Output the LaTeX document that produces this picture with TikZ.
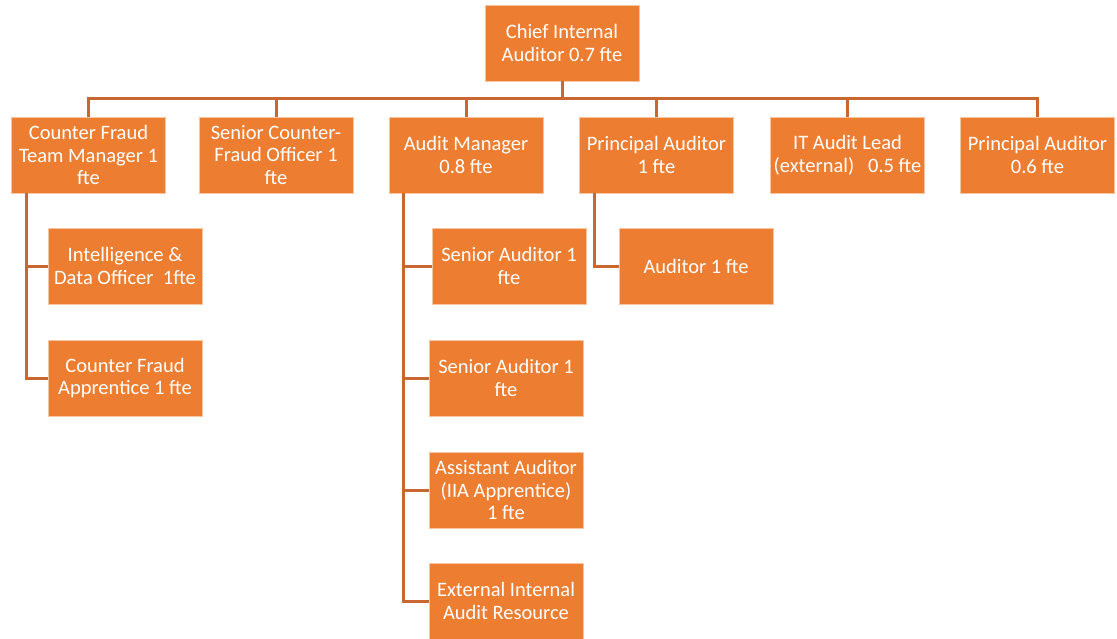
\documentclass[tikz,border=0pt]{standalone}
\usepackage{fontspec}
\setmainfont{Carlito}
\definecolor{boxfill}{RGB}{237,125,49}
\definecolor{linecol}{RGB}{200,104,48}
\tikzset{
  role/.style={fill=boxfill, draw=white!55!boxfill, line width=0.6pt, text=white,
    minimum width=154pt, minimum height=76pt, inner sep=0pt, align=center,
    font=\fontsize{20.5}{22.8}\selectfont},
  link/.style={draw=linecol, line width=3pt}
}
\begin{document}
\begin{tikzpicture}[x=1pt,y=-1pt]
\useasboundingbox (0,0) rectangle (1117,638);
% level 0
\node[role] (chief) at (562,43) {Chief Internal\\Auditor 0.7 fte};
% level 1
\node[role] (cfm) at (88.5,155) {Counter Fraud\\Team Manager 1\\fte};
\node[role] (scf) at (276,155) {Senior Counter-\\Fraud Officer 1\\fte};
\node[role] (am) at (466,155) {Audit Manager\\0.8 fte};
\node[role] (pa1) at (656.5,155) {Principal Auditor\\1 fte};
\node[role] (itl) at (847.5,155) {IT Audit Lead\\(external)\ \ \ 0.5 fte};
\node[role] (pa2) at (1037.5,155) {Principal Auditor\\0.6 fte};
% level 2
\node[role] (intel) at (125,266) {Intelligence \&\\Data Officer\ \ 1fte};
\node[role] (cfa) at (125,378) {Counter Fraud\\Apprentice 1 fte};
\node[role] (sa1) at (509,266) {Senior Auditor 1\\fte};
\node[role] (sa2) at (506,378) {Senior Auditor 1\\fte};
\node[role] (asa) at (506,490) {Assistant Auditor\\(IIA Apprentice)\\1 fte};
\node[role] (ext) at (506,601) {External Internal\\Audit Resource};
\node[role] (aud) at (696,266) {Auditor 1 fte};
% bus
\coordinate (bus) at (562,98);
\foreach \n in {cfm,scf,am,pa1,itl,pa2}
  \draw[link] (chief.south) |- (bus) -| (\n.north);
\draw[link] (chief.south) -- (bus);
% children
\foreach \n in {intel,cfa}
  \draw[link] ([xshift=15pt]cfm.south west) |- (\n.west);
\foreach \n in {sa1,sa2,asa,ext}
  \draw[link] ([xshift=15pt]am.south west) |- (\n.west);
\draw[link] ([xshift=15pt]pa1.south west) |- (aud.west);
\end{tikzpicture}
\end{document}
